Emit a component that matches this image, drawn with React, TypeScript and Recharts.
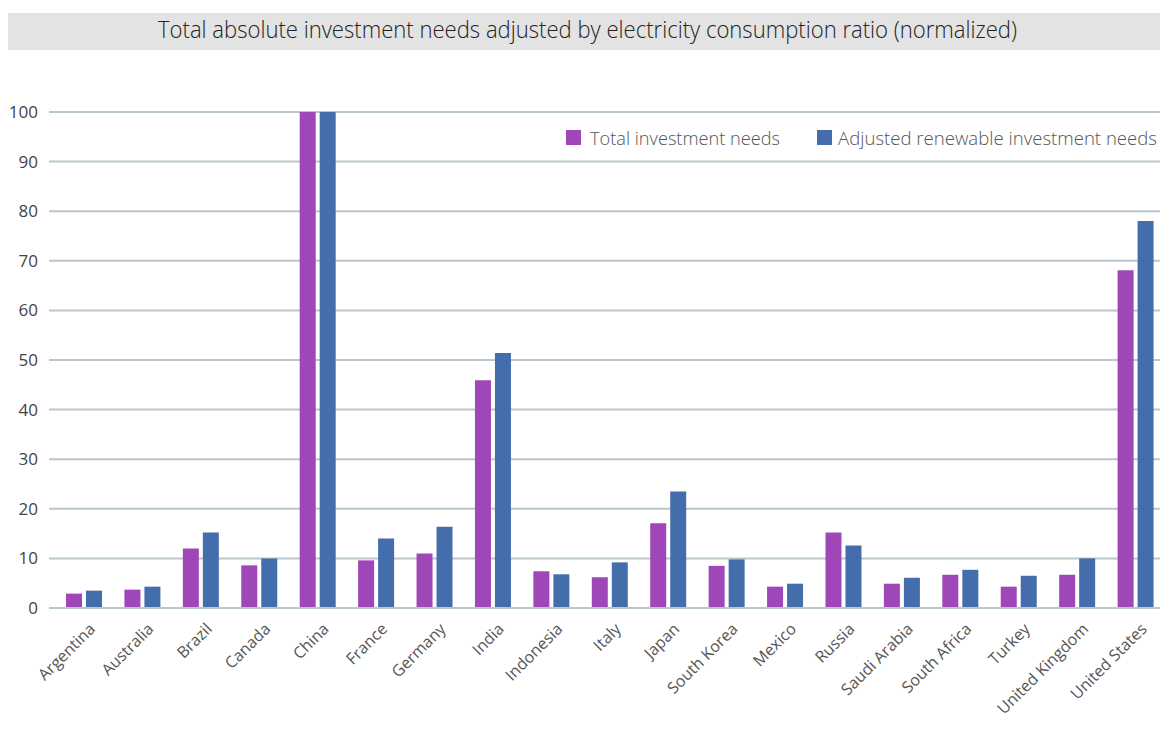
import React from 'react';
import { BarChart, Bar, XAxis, YAxis, CartesianGrid, Legend } from 'recharts';

const countries = ['Argentina', 'Australia', 'Brazil', 'Canada', 'China', 'France', 'Germany', 'India', 'Indonesia', 'Italy', 'Japan', 'South Korea', 'Mexico', 'Russia', 'Saudi Arabia', 'South Africa', 'Turkey', 'United Kingdom', 'United States'];
const totalNeeds = [2.9, 3.7, 12.0, 8.6, 100, 9.6, 11.0, 45.9, 7.4, 6.2, 17.1, 8.5, 4.3, 15.2, 4.9, 6.7, 4.3, 6.7, 68.1];
const adjustedRenewable = [3.5, 4.3, 15.2, 10.0, 100, 14.0, 16.4, 51.4, 6.8, 9.2, 23.5, 9.8, 4.9, 12.6, 6.1, 7.7, 6.5, 10.0, 78.0];
const yTicks = [0, 10, 20, 30, 40, 50, 60, 70, 80, 90, 100];
const seriesNames = ['Total investment needs', 'Adjusted renewable investment needs'];
const title = 'Total absolute investment needs adjusted by electricity consumption ratio (normalized)';

const PURPLE = '#9f47b8';
const BLUE = '#436dab';
const GRID = '#b9c7ce';
const FONT = '"Open Sans", "Noto Sans", sans-serif';

const data = countries.map((c, i) => ({ country: c, total: totalNeeds[i], adjusted: adjustedRenewable[i] }));

const XTick = (props: any) => {
  const { x, y, payload } = props;
  const ox = x + 12;
  const oy = y + 22;
  return (
    <text x={ox} y={oy} transform={`rotate(-45 ${ox} ${oy})`} textAnchor="end" fontSize={16} fill="#555" fontFamily={FONT}>
      {payload.value}
    </text>
  );
};

const renderLegend = () => (
  <svg width={594} height={40} style={{ display: 'block' }}>
    <rect x={0} y={8} width={15} height={15} fill={PURPLE} />
    <text x={24} y={23} fontSize={18} fill="#555" fontFamily={FONT} fontWeight={300} textLength={190} lengthAdjust="spacingAndGlyphs">{seriesNames[0]}</text>
    <rect x={251} y={8} width={15} height={15} fill={BLUE} />
    <text x={272} y={23} fontSize={18} fill="#555" fontFamily={FONT} fontWeight={300} textLength={319} lengthAdjust="spacingAndGlyphs">{seriesNames[1]}</text>
  </svg>
);

export default function App() {
  return (
    <>
      <style>{'html, body { overflow: hidden; }'}</style>
      <div style={{ position: 'fixed', left: 8, top: 8, width: 1152, height: 728, overflow: 'hidden', background: '#fff' }}>
        <svg width={1152} height={37} style={{ position: 'absolute', left: 0, top: 5 }}>
          <rect x={0} y={0} width={1152} height={37} fill="#e3e3e3" />
          <text x={579.5} y={25} textAnchor="middle" fontSize={24} fill="#222" fontFamily={FONT} fontWeight={300} textLength={859} lengthAdjust="spacingAndGlyphs">{title}</text>
        </svg>
        <div style={{ position: 'absolute', left: 0, top: 0 }}>
          <BarChart width={1157} height={720} data={data} margin={{ top: 104, right: 0, bottom: 0, left: 0 }} barSize={16} barGap={4}>
            <CartesianGrid vertical={false} stroke={GRID} strokeWidth={2} />
            <XAxis dataKey="country" interval={0} height={120} tickLine={false} tickSize={0} tickMargin={0} axisLine={{ stroke: GRID, strokeWidth: 2 }} padding={{ left: 6, right: 0 }} tick={<XTick />} />
            <YAxis domain={[0, 100]} ticks={yTicks} width={41} axisLine={false} tickLine={false} tickSize={0} tickMargin={11} tick={{ fontSize: 17, fill: '#444', fontFamily: FONT }} />
            <Legend layout="horizontal" verticalAlign="middle" align="center" content={renderLegend} wrapperStyle={{ position: 'absolute', top: 114, left: 558, width: 594, height: 40 }} />
            <Bar dataKey="total" name={seriesNames[0]} fill={PURPLE} isAnimationActive={false} />
            <Bar dataKey="adjusted" name={seriesNames[1]} fill={BLUE} isAnimationActive={false} />
          </BarChart>
        </div>
      </div>
    </>
  );
}
